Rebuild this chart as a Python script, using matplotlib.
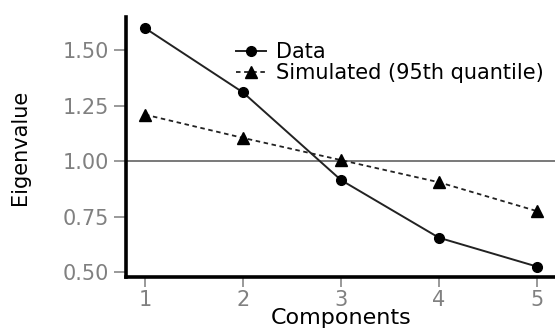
import numpy as np
import matplotlib.pyplot as plt

plt.rcParams['font.family'] = ['DejaVu Sans']

# du lieu doc tu hinh
components = [1, 2, 3, 4, 5]
data_eig = [1.60, 1.31, 0.915, 0.655, 0.525]
sim_eig = [1.21, 1.105, 1.005, 0.905, 0.775]
yticks = [0.50, 0.75, 1.00, 1.25, 1.50]
ytick_labels = ['0.50', '0.75', '1.00', '1.25', '1.50']

fig = plt.figure(figsize=(5.55, 3.32), dpi=100)
ax = fig.add_axes([126/555, 55/332, 1 - 126/555, (277-17)/332])

# duong ngang tai 1.0
ax.axhline(1.0, color='#555555', lw=1.1, zorder=1)

ax.plot(components, data_eig, color='#222222', lw=1.4, marker='o',
        markersize=7, markerfacecolor='black', markeredgecolor='black',
        label='Data', zorder=3)
ax.plot(components, sim_eig, color='#222222', lw=1.3, linestyle=(0, (2.5, 2)),
        marker='^', markersize=8, markerfacecolor='black', markeredgecolor='black',
        label='Simulated (95th quantile)', zorder=3)

ax.set_xlim(0.806, 5.184)
ax.set_ylim(0.478, 1.65)
ax.set_xticks(components)
ax.set_xticklabels([str(c) for c in components])
ax.set_yticks(yticks)
ax.set_yticklabels(ytick_labels)

for s in ['top', 'right']:
    ax.spines[s].set_visible(False)
for s in ['left', 'bottom']:
    ax.spines[s].set_linewidth(2.6)
    ax.spines[s].set_color('black')

ax.tick_params(axis='y', length=9, width=1.2, color='#888888', labelcolor='#808080',
               labelsize=15, pad=3)
ax.tick_params(axis='x', length=7, width=1.2, color='#888888', labelcolor='#808080',
               labelsize=15, pad=2)

ax.set_xlabel('Components', fontsize=16, va='top')
ax.xaxis.set_label_coords(341/555, 1 - 308/332, transform=fig.transFigure)
ax.set_ylabel('Eigenvalue', fontsize=15, va='center')
ax.yaxis.set_label_coords(20/555, 1 - 147/332, transform=fig.transFigure)

leg = ax.legend(loc='upper left', bbox_to_anchor=(226/555, 1 - 32/332),
                bbox_transform=fig.transFigure, frameon=False, fontsize=15,
                handlelength=1.4, handletextpad=0.5, labelspacing=0.05, borderpad=0)

fig.savefig('out.png', dpi=100)
